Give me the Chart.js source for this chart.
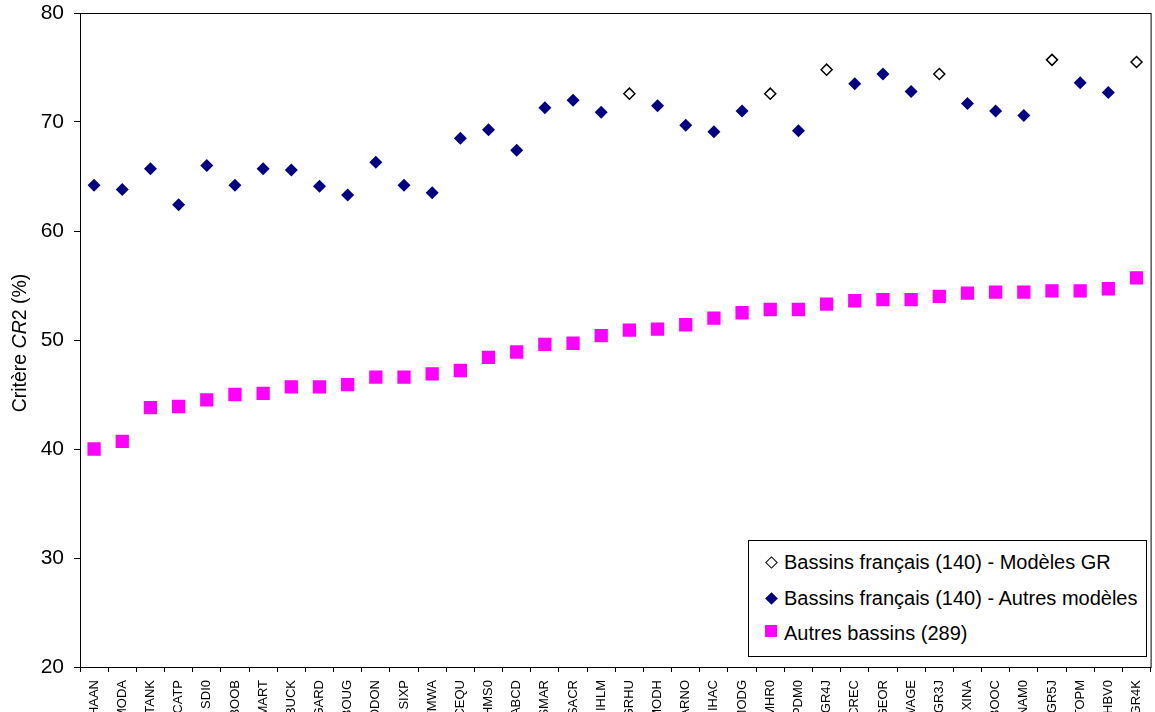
<!DOCTYPE html>
<html>
<head>
<meta charset="utf-8">
<script src="https://cdn.jsdelivr.net/npm/chart.js@4.4.0/dist/chart.umd.min.js"></script>
<style>
  html, body { margin: 0; padding: 0; background: #fff; overflow: hidden; }
  #wrap { position: relative; width: 1160px; height: 712px; }
  #legend {
    position: absolute; left: 748px; top: 540px; width: 397px; height: 115px;
    border: 1px solid #000; background: #fff;
    font: 20px "Liberation Sans", Arial, sans-serif; color: #000;
  }
  .row { position: absolute; left: 0; height: 24px; line-height: 24px; white-space: nowrap; }
  .row span.txt { position: absolute; left: 35px; top: 0; }
  .mk { position: absolute; box-sizing: border-box; }
</style>
</head>
<body>
<div id="wrap">
  <canvas id="chart" width="1160" height="712"></canvas>
  <div id="legend"></div>
</div>
<script>
// --- Data ---
const modeles = ['HAAN', 'MODA', 'TANK', 'CATP', 'SDI0', 'BOOB', 'MART', 'BUCK', 'GARD', 'BOUG',
  'ODON', 'SIXP', 'TMWA', 'CEQU', 'HMS0', 'ABCD', 'SMAR', 'SACR', 'IHLM', 'GRHU',
  'MODH', 'ARNO', 'IHAC', 'MODG', 'MHR0', 'PDM0', 'GR4J', 'CREC', 'GEOR', 'WAGE',
  'GR3J', 'XINA', 'BOOC', 'NAM0', 'GR5J', 'TOPM', 'HBV0', 'GR4K'];

const modelesGR = ['GRHU', 'MHR0', 'GR4J', 'GR3J', 'GR5J', 'GR4K'];

// Bassins français (140)
const critFrancais = [64.2, 63.8, 65.7, 62.4, 66.0, 64.2, 65.7, 65.6, 64.1, 63.3,
  66.3, 64.2, 63.5, 68.5, 69.3, 67.4, 71.3, 72.0, 70.9, 72.6,
  71.5, 69.7, 69.1, 71.0, 72.6, 69.2, 74.8, 73.5, 74.4, 72.8,
  74.4, 71.7, 71.0, 70.6, 75.7, 73.6, 72.7, 75.5];

// Autres bassins (289)
const critAutres = [40.0, 40.7, 43.8, 43.9, 44.5, 45.0, 45.1, 45.7, 45.7, 45.9,
  46.6, 46.6, 46.9, 47.2, 48.4, 48.9, 49.6, 49.7, 50.4, 50.9,
  51.0, 51.4, 52.0, 52.5, 52.8, 52.8, 53.3, 53.6, 53.7, 53.7,
  54.0, 54.3, 54.4, 54.4, 54.5, 54.5, 54.7, 55.7];

const yTicks = [20, 30, 40, 50, 60, 70, 80];

const FONT = '"Liberation Sans", Arial, sans-serif';

// split the French series into GR / other models
const isGR = modeles.map(m => modelesGR.includes(m));
const frGR = critFrancais.map((v, i) => isGR[i] ? v : null);
const frAutres = critFrancais.map((v, i) => isGR[i] ? null : v);

// --- Plot frame + y title (CR in italics) ---
const framePlugin = {
  id: 'frame',
  afterDraw(chart) {
    const { ctx, chartArea: a } = chart;
    ctx.save();
    ctx.strokeStyle = '#000';
    ctx.lineWidth = 1;
    ctx.strokeRect(Math.round(a.left) + 0.5, Math.round(a.top) + 0.5, a.right - a.left, a.bottom - a.top);

    const parts = [
      { t: 'Critère ', f: '19.5px ' + FONT },
      { t: 'CR', f: 'italic 19.5px ' + FONT },
      { t: '2 (%)', f: '19.5px ' + FONT }
    ];
    let total = 0;
    parts.forEach(p => { ctx.font = p.f; p.w = ctx.measureText(p.t).width; total += p.w; });
    ctx.translate(21, 343);
    ctx.rotate(-Math.PI / 2);
    ctx.fillStyle = '#000';
    ctx.textBaseline = 'middle';
    ctx.textAlign = 'left';
    let x = -total / 2;
    parts.forEach(p => { ctx.font = p.f; ctx.fillText(p.t, x, 0); x += p.w; });
    ctx.restore();
  }
};

const chart = new Chart(document.getElementById('chart').getContext('2d'), {
  type: 'line',
  data: {
    labels: modeles,
    datasets: [
      {
        label: 'Bassins français (140) - Modèles GR',
        data: frGR,
        showLine: false,
        pointStyle: 'rectRot',
        pointRadius: 5.5,
        pointBackgroundColor: '#ffffff',
        pointBorderColor: '#000000',
        pointBorderWidth: 1.5,
        legendMarker: { w: 9, rot: true, bg: '#fff', border: '1.5px solid #000' }
      },
      {
        label: 'Bassins français (140) - Autres modèles',
        data: frAutres,
        showLine: false,
        pointStyle: 'rectRot',
        pointRadius: 6.5,
        pointBackgroundColor: '#000080',
        pointBorderWidth: 0,
        legendMarker: { w: 9, rot: true, bg: '#000080', border: 'none' }
      },
      {
        label: 'Autres bassins (289)',
        data: critAutres,
        showLine: false,
        pointStyle: 'rect',
        pointRadius: 9.4,
        pointBackgroundColor: '#ff00ff',
        pointBorderWidth: 0,
        legendMarker: { w: 12, rot: false, bg: '#ff00ff', border: 'none' }
      }
    ]
  },
  options: {
    responsive: false,
    animation: false,
    events: [],
    layout: { padding: { top: 13, left: 0, right: 0, bottom: 0 } },
    plugins: { legend: { display: false }, tooltip: { enabled: false } },
    scales: {
      x: {
        offset: true,
        grid: { offset: true, drawOnChartArea: false, drawTicks: true, tickLength: 5, color: '#000' },
        border: { display: true, color: '#000', width: 1 },
        ticks: {
          autoSkip: false, maxRotation: 90, minRotation: 90, padding: 8,
          color: '#000', font: { family: FONT, size: 13 }
        },
        afterFit(scale) { scale.height = 45; scale.paddingLeft = 0; scale.paddingRight = 0; }
      },
      y: {
        min: yTicks[0],
        max: yTicks[yTicks.length - 1],
        afterBuildTicks(scale) { scale.ticks = yTicks.map(v => ({ value: v })); },
        grid: { drawOnChartArea: false, drawTicks: true, tickLength: 6, color: '#000' },
        border: { display: true, color: '#000', width: 1 },
        ticks: { padding: 10, color: '#000', font: { family: FONT, size: 21 } },
        afterFit(scale) { scale.width = 80; scale.paddingTop = 0; scale.paddingBottom = 0; }
      }
    }
  },
  plugins: [framePlugin]
});

// --- HTML legend inside the plot ---
const legendEl = document.getElementById('legend');
const rowCenters = [21, 57, 92];
chart.data.datasets.forEach((ds, i) => {
  const row = document.createElement('div');
  row.className = 'row';
  row.style.top = (rowCenters[i] - 12) + 'px';
  row.style.width = '100%';
  const m = ds.legendMarker;
  const mk = document.createElement('div');
  mk.className = 'mk';
  mk.style.width = m.w + 'px';
  mk.style.height = m.w + 'px';
  mk.style.left = (22 - m.w / 2) + 'px';
  mk.style.top = (12 - m.w / 2 - (m.rot ? 0 : 2)) + 'px';
  mk.style.background = m.bg;
  mk.style.border = m.border;
  if (m.rot) mk.style.transform = 'rotate(45deg)';
  const txt = document.createElement('span');
  txt.className = 'txt';
  txt.textContent = ds.label;
  row.appendChild(mk);
  row.appendChild(txt);
  legendEl.appendChild(row);
});
</script>
</body>
</html>
